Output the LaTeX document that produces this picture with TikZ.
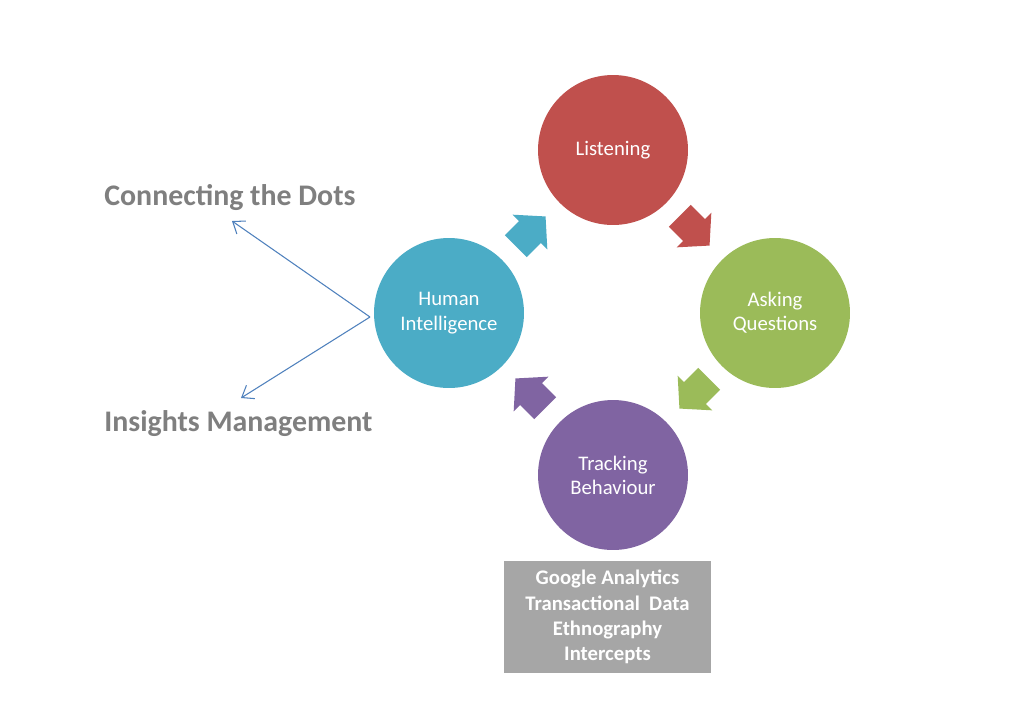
\documentclass[tikz,border=0pt]{standalone}
\usepackage{fontspec}
\setmainfont{Carlito}
\usetikzlibrary{arrows.meta}
\definecolor{cred}{HTML}{C0504D}
\definecolor{cgreen}{HTML}{9BBB59}
\definecolor{cpurple}{HTML}{8064A2}
\definecolor{cblue}{HTML}{4BACC6}
\definecolor{boxgray}{HTML}{A6A6A6}
\definecolor{titlegray}{HTML}{7F7F7F}
\definecolor{linkblue}{HTML}{4F81BD}
\begin{document}
\begin{tikzpicture}[x=0.02cm,y=-0.02cm,
  stage/.style={circle,minimum size=3cm,inner sep=0pt,text=white,align=center,
    font=\fontsize{11.8}{13.8}\selectfont},
  title/.style={anchor=west,text=titlegray,font=\fontsize{17}{20}\selectfont\bfseries,inner sep=0pt},
  link/.style={draw=linkblue,line width=0.6pt,-{Straight Barb[length=6pt,width=9pt]}},
  pics/blockarrow/.style={code={
    \fill[#1] (-20,-15.5) -- (0,-15.5) -- (0,-24.5) -- (22,0) -- (0,24.5) -- (0,15.5) -- (-20,15.5) -- cycle;}}
]
\useasboundingbox (0,0) rectangle (1024,708);
\fill[white] (0,0) rectangle (1024,708);

\node[stage,fill=cred] (listen) at (613,150) {Listening};
\node[stage,fill=cgreen] (ask) at (775,313) {Asking\\Questions};
\node[stage,fill=cpurple] (track) at (613,475) {Tracking\\Behaviour};
\node[stage,fill=cblue] (human) at (449,313) {Human\\Intelligence};

\pic[rotate=45] at (530,232) {blockarrow=cblue};
\pic[rotate=-45] at (694,230) {blockarrow=cred};
\pic[rotate=-135] at (695,393) {blockarrow=cgreen};
\pic[rotate=135] at (531,394) {blockarrow=cpurple};

\node[fill=boxgray,minimum width=4.14cm,minimum height=2.24cm,inner sep=0pt,
  text=white,align=center,font=\fontsize{11.8}{14.4}\selectfont\bfseries]
  (tools) at (607.5,617) {Google Analytics\\Transactional\ \ Data\\Ethnography\\Intercepts};

\node[title] (dots) at (104,198) {Connecting the Dots};
\node[title] (insights) at (104,424) {Insights Management};

\coordinate (apex) at (370,317);
\coordinate (tipA) at (232,221);
\coordinate (tipB) at (241,398);
\draw[link] (apex) -- (tipA);
\draw[link] (apex) -- (tipB);
\end{tikzpicture}
\end{document}
